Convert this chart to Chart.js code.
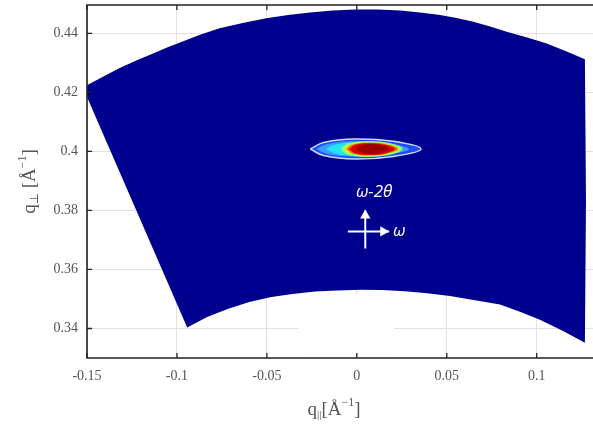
<!DOCTYPE html>
<html>
<head>
<meta charset="utf-8">
<script src="https://cdn.jsdelivr.net/npm/chart.js@4.4.1/dist/chart.umd.min.js"></script>
<style>
  html, body { margin: 0; padding: 0; background: #fff; }
  canvas { display: block; }
</style>
</head>
<body>
<canvas id="rsm" width="593" height="428"></canvas>
<script>
// axis ticks
const xTicks = [-0.15, -0.1, -0.05, 0, 0.05, 0.1];
const xTickLabels = ['-0.15', '-0.1', '-0.05', '0', '0.05', '0.1'];
const yTicks = [0.34, 0.36, 0.38, 0.4, 0.42, 0.44];
const yTickLabels = ['0.34', '0.36', '0.38', '0.4', '0.42', '0.44'];

// measured area (sector of reciprocal space), q_par / q_perp
// top arc left->right, right edge, bottom arc right->left, left edge
const sectorQx = [-0.15, -0.1409, -0.1321, -0.1226, -0.1133, -0.1059, -0.0986, -0.0876, -0.0763, -0.0634,
  -0.0504, -0.0382, -0.0260, -0.0134, -0.0009, 0.0116, 0.0241, 0.0352, 0.0463, 0.0555, 0.0648, 0.0741,
  0.0833, 0.0942, 0.1052, 0.1160, 0.1268,
  0.1274,
  0.1268, 0.1141, 0.1018, 0.0907, 0.0796, 0.0657, 0.0518, 0.0391, 0.0268, 0.0141, 0.0018, -0.0110,
  -0.0232, -0.0359, -0.0482, -0.0598, -0.0715, -0.0832, -0.0943,
  -0.15];
const sectorQz = [0.4224, 0.4254, 0.4282, 0.4308, 0.4332, 0.4351, 0.4368, 0.4394, 0.4417, 0.4435,
  0.4451, 0.4462, 0.4471, 0.4477, 0.4481, 0.4481, 0.4477, 0.4471, 0.4462, 0.4452, 0.4439, 0.4423,
  0.4405, 0.4387, 0.4366, 0.4340, 0.4312,
  0.3834,
  0.3352, 0.3393, 0.3430, 0.3457, 0.3481, 0.3496, 0.3510, 0.3519, 0.3526, 0.3530, 0.3531, 0.3529,
  0.3525, 0.3517, 0.3506, 0.3490, 0.3467, 0.3439, 0.3403,
  0.4184];

// pale patch below the sector
const patchQx = [-0.0326, 0.0207, 0.0207, -0.0326, -0.0326];
const patchQz = [0.3515, 0.3515, 0.33, 0.33, 0.3515];

// intensity contours of the reflection (outer -> inner)
const contourQx = {
  outer:  [-0.0259, -0.0185, -0.0013, 0.0203, 0.0357, 0.0203, -0.0013, -0.0185, -0.0259],
  light:  [-0.0226, -0.0164, -0.0019, 0.0162, 0.0291, 0.0162, -0.0019, -0.0164, -0.0226],
  cyan:   [-0.0171, -0.0120, 0.0000, 0.0150, 0.0257, 0.0150, 0.0000, -0.0120, -0.0171],
  yellow: [-0.0082, -0.0043, 0.0066, 0.0180, 0.0246, 0.0180, 0.0066, -0.0043, -0.0082],
  orange: [-0.0059, -0.0024, 0.0071, 0.0171, 0.0229, 0.0171, 0.0071, -0.0024, -0.0059],
  red:    [-0.0043, -0.0012, 0.0072, 0.0162, 0.0213, 0.0162, 0.0072, -0.0012, -0.0043],
  core:   [-0.0004, 0.0018, 0.0078, 0.0142, 0.0179, 0.0142, 0.0078, 0.0018, -0.0004]
};
const contourQz = {
  outer:  [0.4008, 0.4030, 0.4042, 0.4034, 0.4008, 0.3983, 0.3974, 0.3986, 0.4008],
  light:  [0.4008, 0.4025, 0.4034, 0.4028, 0.4008, 0.3989, 0.3982, 0.3991, 0.4008],
  cyan:   [0.4008, 0.4023, 0.4031, 0.4025, 0.4008, 0.3991, 0.3985, 0.3993, 0.4008],
  yellow: [0.4008, 0.4024, 0.4031, 0.4024, 0.4008, 0.3992, 0.3985, 0.3992, 0.4008],
  orange: [0.4008, 0.4023, 0.4029, 0.4023, 0.4008, 0.3993, 0.3987, 0.3993, 0.4008],
  red:    [0.4008, 0.4022, 0.4028, 0.4022, 0.4008, 0.3994, 0.3988, 0.3994, 0.4008],
  core:   [0.4008, 0.4020, 0.4025, 0.4020, 0.4008, 0.3997, 0.3992, 0.3997, 0.4008]
};

// scan direction arrows + labels
const arrowUpQx = [0.0047, 0.0047];
const arrowUpQz = [0.3671, 0.3800];
const arrowRightQx = [-0.0050, 0.0180];
const arrowRightQz = [0.3729, 0.3729];
const arrowHeadQx = [0.0047, 0.0147];
const arrowHeadQz = [0.3783, 0.3729];
const annotationLabels = ['ω-2θ', 'ω'];
const annotationQx = [0.0096, 0.0236];
const annotationQz = [0.3861, 0.3729];

const serif = '"Liberation Serif", "DejaVu Serif", serif';
const toPoints = (xs, ys) => xs.map((v, i) => ({ x: v, y: ys[i] }));

const contourStyles = [
  ['outer', '#1d4cff', 'rgba(225,235,255,0.9)', 1.5, 40],
  ['light', '#3d9cff', 'rgba(0,0,0,0)', 0, 35],
  ['cyan', '#22e4ff', 'rgba(0,0,0,0)', 0, 30],
  ['yellow', '#f4e41c', '#96ff60', 2.5, 25],
  ['orange', '#ff6a00', 'rgba(0,0,0,0)', 0, 20],
  ['red', '#d90000', 'rgba(0,0,0,0)', 0, 15],
  ['core', '#9c0000', 'rgba(0,0,0,0)', 0, 10]
];

const datasets = [
  {
    data: toPoints(patchQx, patchQz),
    backgroundColor: '#fefefe', borderWidth: 0, fill: 'shape', order: 60
  },
  {
    data: toPoints(sectorQx, sectorQz),
    backgroundColor: '#00008f', borderWidth: 0, fill: 'shape', order: 50
  }
];

contourStyles.forEach(([key, fillColor, edge, edgeWidth, order]) => {
  datasets.push({
    data: toPoints(contourQx[key], contourQz[key]),
    backgroundColor: fillColor,
    borderColor: edge,
    borderWidth: edgeWidth,
    fill: 'shape',
    tension: 0.4,
    order: order
  });
});

datasets.push({
  data: toPoints(arrowUpQx, arrowUpQz),
  borderColor: '#fff', borderWidth: 2, fill: false, order: 5
});
datasets.push({
  data: toPoints(arrowRightQx, arrowRightQz),
  borderColor: '#fff', borderWidth: 2, fill: false, order: 5
});
datasets.push({
  data: toPoints(arrowHeadQx, arrowHeadQz),
  showLine: false,
  pointStyle: 'triangle',
  pointRadius: 6,
  pointRotation: [0, 90],
  pointBackgroundColor: '#fff',
  pointBorderWidth: 0,
  order: 4
});

// draws a label with sub/superscripts
function drawRich(ctx, parts, cx, cy) {
  let w = 0;
  parts.forEach(p => { ctx.font = p[1] + 'px ' + serif; w += ctx.measureText(p[0]).width; });
  let xx = cx - w / 2;
  parts.forEach(p => {
    ctx.font = p[1] + 'px ' + serif;
    ctx.fillText(p[0], xx, cy + p[2]);
    xx += ctx.measureText(p[0]).width;
  });
}

const framePlugin = {
  id: 'frame',
  afterDatasetsDraw(chart) {
    const { ctx, chartArea: a, scales: { x, y } } = chart;
    ctx.save();

    // annotation text
    ctx.fillStyle = '#fff';
    ctx.textAlign = 'left';
    ctx.textBaseline = 'middle';
    ctx.font = 'italic 17px "Open Sans", sans-serif';
    annotationLabels.forEach((t, i) => {
      const w = ctx.measureText(t).width;
      ctx.fillText(t, x.getPixelForValue(annotationQx[i]) - w / 2, y.getPixelForValue(annotationQz[i]));
    });

    // box lines (left, bottom, top)
    ctx.strokeStyle = '#222';
    ctx.lineWidth = 1.6;
    ctx.beginPath();
    ctx.moveTo(a.right, a.top);
    ctx.lineTo(a.left, a.top);
    ctx.lineTo(a.left, a.bottom);
    ctx.lineTo(a.right, a.bottom);
    ctx.stroke();

    // inward tick marks
    ctx.lineWidth = 1.3;
    ctx.beginPath();
    xTicks.forEach(v => {
      const px = x.getPixelForValue(v);
      ctx.moveTo(px, a.bottom); ctx.lineTo(px, a.bottom - 5);
      ctx.moveTo(px, a.top); ctx.lineTo(px, a.top + 5);
    });
    yTicks.forEach(v => {
      const py = y.getPixelForValue(v);
      ctx.moveTo(a.left, py); ctx.lineTo(a.left + 5, py);
    });
    ctx.stroke();

    // axis titles
    ctx.fillStyle = '#555';
    ctx.textAlign = 'left';
    ctx.textBaseline = 'middle';
    drawRich(ctx, [['q', 19, 0], ['||', 11, 5], ['[Å', 19, 0], ['−1', 12, -7], [']', 19, 0]],
      (a.left + a.right) / 2 - 6, a.bottom + 52);

    ctx.translate(30, (a.top + a.bottom) / 2);
    ctx.rotate(-Math.PI / 2);
    drawRich(ctx, [['q', 19, 0], ['⊥', 12, 5], [' [Å', 19, 0], ['−1', 12, -7], [']', 19, 0]], 0, 0);

    ctx.restore();
  }
};

new Chart(document.getElementById('rsm'), {
  type: 'scatter',
  data: { datasets },
  plugins: [framePlugin],
  options: {
    responsive: false,
    animation: false,
    showLine: true,
    layout: { autoPadding: false, padding: { left: 0, top: 5, right: 0, bottom: 0 } },
    elements: { point: { radius: 0, hoverRadius: 0 }, line: { borderWidth: 0 } },
    scales: {
      x: {
        type: 'linear',
        min: -0.15,
        max: 0.1313,
        afterBuildTicks: s => { s.ticks = xTicks.map(v => ({ value: v })); },
        afterFit: s => { s.height = 70; s.paddingLeft = 0; s.paddingRight = 0; },
        border: { display: false },
        grid: { color: '#e2e2e2', lineWidth: 1, drawTicks: false },
        ticks: {
          padding: 10,
          color: '#555',
          font: { family: serif, size: 14 },
          maxRotation: 0,
          callback: (v, i) => xTickLabels[i]
        }
      },
      y: {
        type: 'linear',
        min: 0.33,
        max: 0.4496,
        afterBuildTicks: s => { s.ticks = yTicks.map(v => ({ value: v })); },
        afterFit: s => { s.width = 87; s.paddingTop = 0; s.paddingBottom = 0; },
        border: { display: false },
        grid: { color: '#e2e2e2', lineWidth: 1, drawTicks: false },
        ticks: {
          padding: 9,
          color: '#555',
          font: { family: serif, size: 14 },
          callback: (v, i) => yTickLabels[i]
        }
      }
    },
    plugins: {
      legend: { display: false },
      tooltip: { enabled: false }
    }
  }
});
</script>
</body>
</html>
